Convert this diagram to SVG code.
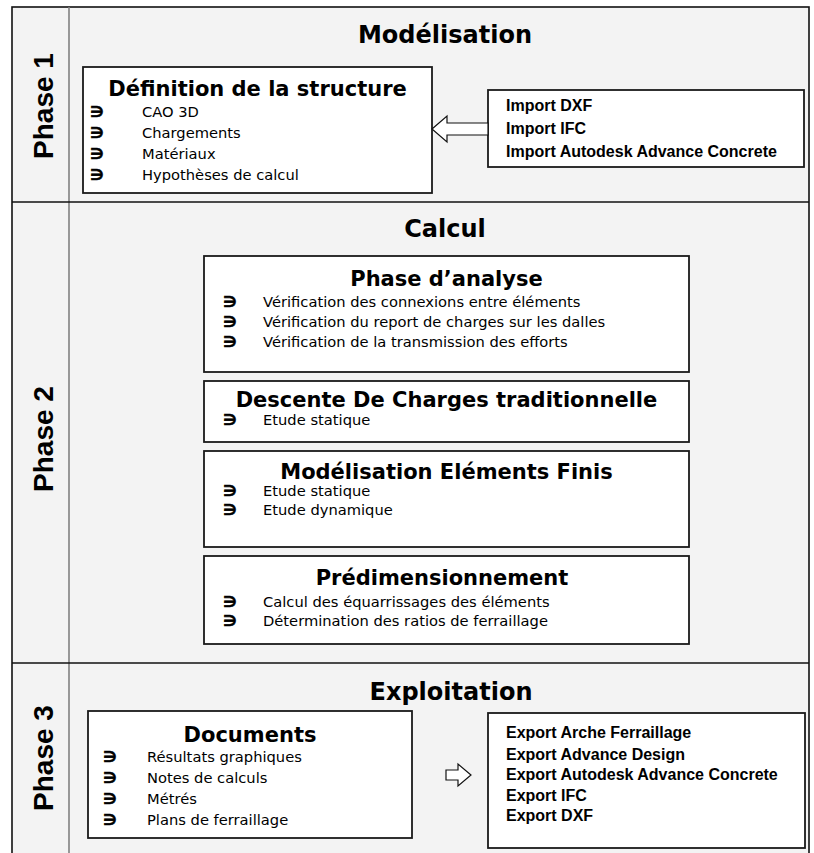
<svg xmlns="http://www.w3.org/2000/svg" width="814" height="853" viewBox="0 0 814 853">
  <style>
    .frame { fill: #f3f3f3; stroke: #111; stroke-width: 1.6; }
    .row { stroke: #111; stroke-width: 1.6; }
    .col { stroke: #808080; stroke-width: 1.6; }
    .box { fill: #fff; stroke: #1a1a1a; stroke-width: 1.8; }
    .arrow { fill: #fff; stroke: #111; stroke-width: 1.2; stroke-linejoin: miter; }
    .phase { font-family: "Liberation Sans", Arial, sans-serif; font-weight: bold; font-size: 28px; fill: #000; text-anchor: middle; }
    .h1 { font-family: "DejaVu Sans", Verdana, sans-serif; font-weight: bold; font-size: 24px; fill: #000; text-anchor: middle; }
    .h2 { font-family: "DejaVu Sans", Verdana, sans-serif; font-weight: bold; font-size: 21px; fill: #000; text-anchor: middle; }
    .item { font-family: "DejaVu Sans", Verdana, sans-serif; font-size: 14.7px; fill: #000; }
    .bul { font-family: "DejaVu Sans", sans-serif; font-weight: bold; font-size: 15px; fill: #000; text-anchor: middle; stroke: #000; stroke-width: 0.6; }
    .io { font-family: "Liberation Sans", Arial, sans-serif; font-weight: bold; font-size: 16px; fill: #000; }
  </style>

  <!-- table frame: phase column + three rows -->
  <g id="frame">
    <rect class="frame" x="12" y="7" width="797" height="860"/>
    <line class="col" x1="69" y1="7" x2="69" y2="853"/>
    <line class="row" x1="12" y1="202" x2="809" y2="202"/>
    <line class="row" x1="12" y1="663" x2="809" y2="663"/>
  </g>

  <!-- phase labels -->
  <g id="phase-labels">
    <text class="phase" transform="translate(53,106) rotate(-90)">Phase 1</text>
    <text class="phase" transform="translate(53,439) rotate(-90)">Phase 2</text>
    <text class="phase" transform="translate(53,758) rotate(-90)">Phase 3</text>
  </g>

  <!-- row headings -->
  <g id="headings">
    <text class="h1" x="445" y="42.5">Modélisation</text>
    <text class="h1" x="445" y="237">Calcul</text>
    <text class="h1" x="451" y="700">Exploitation</text>
  </g>

  <!-- Phase 1 -->
  <g id="definition-structure">
    <rect class="box" x="83" y="67" width="349" height="126"/>
    <text class="h2" x="257.5" y="96">Définition de la structure</text>
    <text class="bul" x="97" y="116.5">∋</text><text class="item" x="142" y="116.5">CAO 3D</text>
    <text class="bul" x="97" y="137.5">∋</text><text class="item" x="142" y="137.5">Chargements</text>
    <text class="bul" x="97" y="158.5">∋</text><text class="item" x="142" y="158.5">Matériaux</text>
    <text class="bul" x="97" y="179.5">∋</text><text class="item" x="142" y="179.5">Hypothèses de calcul</text>
  </g>

  <g id="imports">
    <rect class="box" x="488" y="90" width="316" height="77"/>
    <text class="io" x="506" y="111">Import DXF</text>
    <text class="io" x="506" y="134">Import IFC</text>
    <text class="io" x="506" y="157">Import Autodesk Advance Concrete</text>
  </g>

  <!-- Phase 2 -->
  <g id="phase-analyse">
    <rect class="box" x="204" y="256" width="485" height="116"/>
    <text class="h2" x="446.5" y="286">Phase d’analyse</text>
    <text class="bul" x="230" y="306.5">∋</text><text class="item" x="263" y="306.5">Vérification des connexions entre éléments</text>
    <text class="bul" x="230" y="326.5">∋</text><text class="item" x="263" y="326.5">Vérification du report de charges sur les dalles</text>
    <text class="bul" x="230" y="346.5">∋</text><text class="item" x="263" y="346.5">Vérification de la transmission des efforts</text>
  </g>

  <g id="descente-charges">
    <rect class="box" x="204" y="381" width="485" height="61"/>
    <text class="h2" x="446.5" y="407">Descente De Charges traditionnelle</text>
    <text class="bul" x="230" y="424.5">∋</text><text class="item" x="263" y="424.5">Etude statique</text>
  </g>

  <g id="elements-finis">
    <rect class="box" x="204" y="451" width="485" height="96"/>
    <text class="h2" x="446.5" y="478.5">Modélisation Eléments Finis</text>
    <text class="bul" x="230" y="495.5">∋</text><text class="item" x="263" y="495.5">Etude statique</text>
    <text class="bul" x="230" y="515">∋</text><text class="item" x="263" y="515">Etude dynamique</text>
  </g>

  <g id="predimensionnement">
    <rect class="box" x="204" y="556" width="485" height="88"/>
    <text class="h2" x="442" y="585">Prédimensionnement</text>
    <text class="bul" x="230" y="606.5">∋</text><text class="item" x="263" y="606.5">Calcul des équarrissages des éléments</text>
    <text class="bul" x="230" y="626">∋</text><text class="item" x="263" y="626">Détermination des ratios de ferraillage</text>
  </g>

  <!-- Phase 3 -->
  <g id="documents">
    <rect class="box" x="88" y="711" width="324" height="127"/>
    <text class="h2" x="250" y="742">Documents</text>
    <text class="bul" x="110" y="762">∋</text><text class="item" x="147" y="762">Résultats graphiques</text>
    <text class="bul" x="110" y="783">∋</text><text class="item" x="147" y="783">Notes de calculs</text>
    <text class="bul" x="110" y="804">∋</text><text class="item" x="147" y="804">Métrés</text>
    <text class="bul" x="110" y="825">∋</text><text class="item" x="147" y="825">Plans de ferraillage</text>
  </g>

  <g id="exports">
    <rect class="box" x="488" y="713" width="317" height="135"/>
    <text class="io" x="506" y="738">Export Arche Ferraillage</text>
    <text class="io" x="506" y="759.5">Export Advance Design</text>
    <text class="io" x="506" y="780">Export Autodesk Advance Concrete</text>
    <text class="io" x="506" y="800.5">Export IFC</text>
    <text class="io" x="506" y="821">Export DXF</text>
  </g>

  <!-- connectors: hollow block arrows -->
  <g id="connectors">
    <polygon class="arrow" points="432,129 447,116 447,123 488,123 488,135 447,135 447,142"/>
    <polygon class="arrow" points="446,770 458,770 458,764 471,775 458,786 458,780 446,780"/>
  </g>
</svg>
